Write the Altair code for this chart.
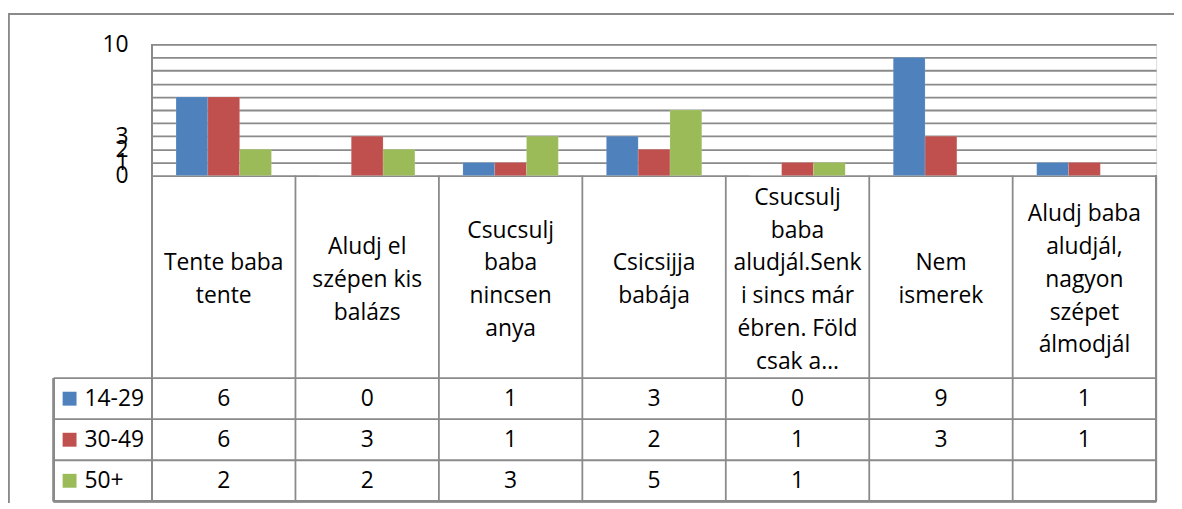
import altair as alt
import pandas as pd

CATEGORIES = [
    "Tente baba\ntente",
    "Aludj el\nszépen kis\nbalázs",
    "Csucsulj\nbaba\nnincsen\nanya",
    "Csicsijja\nbabája",
    "Csucsulj\nbaba\naludjál.Senk\ni sincs már\nébren. Föld\ncsak a…",
    "Nem\nismerek",
    "Aludj baba\naludjál,\nnagyon\nszépet\nálmodjál",
]
SERIES = ["14-29", "30-49", "50+"]
V_14_29 = [6, 0, 1, 3, 0, 9, 1]
V_30_49 = [6, 3, 1, 2, 1, 3, 1]
V_50_PLUS = [2, 2, 3, 5, 1, None, None]
COLORS = ["#4F81BD", "#C0504D", "#9BBB59"]
Y_GRID = list(range(0, 11))
Y_LABELS = [0, 1, 2, 3, 10]

FONT = "Open Sans"
FS = 23
LINE = "#8a8a8a"
LW = 1.8

W = 1011          # plot + table width
H = 460           # plot + table height
BAR_H = 132       # height of bar area
ROW_TOP = 336     # top of series rows in table
CAT_MID = 237     # vertical centre of category-label row
LH = 33           # line height of category labels

rows = []
for s, vals in zip(SERIES, [V_14_29, V_30_49, V_50_PLUS]):
    for c, v in zip(CATEGORIES, vals):
        rows.append({"cat": c, "series": s, "value": v})
df = pd.DataFrame(rows)
df_vals = df.dropna(subset=["value"]).copy()
df_vals["value"] = df_vals["value"].astype(int)
df_cat = pd.DataFrame({"cat": CATEGORIES})
df_ser = pd.DataFrame({"series": SERIES})

xs = alt.Scale(domain=CATEGORIES, paddingInner=0, paddingOuter=0)
ys_row = alt.Scale(domain=SERIES, range=[ROW_TOP, H], paddingInner=0, paddingOuter=0)
cs = alt.Scale(domain=SERIES, range=COLORS)

label_expr = "indexof(" + str(Y_LABELS) + ", datum.value) >= 0 ? datum.label : ''"

bars = alt.Chart(df_vals).mark_bar(stroke="white", strokeOpacity=0.25, strokeWidth=0.5).encode(
    x=alt.X("cat:N", sort=CATEGORIES, scale=xs, axis=None),
    xOffset=alt.XOffset("series:N", sort=SERIES,
                        scale=alt.Scale(domain=SERIES, paddingInner=0, paddingOuter=0.756)),
    y=alt.Y("value:Q",
            scale=alt.Scale(domain=[0, 10], range=[BAR_H, 0], nice=False),
            axis=alt.Axis(values=Y_GRID, labelExpr=label_expr, grid=True,
                          gridColor=LINE, gridWidth=LW, ticks=False, domain=False,
                          labelFont=FONT, labelFontSize=FS, labelColor="black",
                          labelPadding=24, labelOverlap=False, title=None)),
    color=alt.Color("series:N", scale=cs, legend=None),
)

# table: category labels (multi-line, block centred vertically)
cat_text = alt.Chart(df_cat).transform_calculate(
    nlines="length(split(datum.cat, '\\n'))"
).transform_calculate(
    ypos=f"{CAT_MID} - (datum.nlines - 1) * {LH} / 2"
).mark_text(
    font=FONT, fontSize=FS, lineBreak="\n", lineHeight=LH, baseline="middle",
    align="center", color="black"
).encode(
    x=alt.X("cat:N", sort=CATEGORIES, scale=xs, axis=None),
    y=alt.Y("ypos:Q", scale=None, axis=None),
    text="cat:N",
)

# table: values
val_text = alt.Chart(df_vals).mark_text(
    font=FONT, fontSize=FS, baseline="middle", align="center", color="black"
).encode(
    x=alt.X("cat:N", sort=CATEGORIES, scale=xs, axis=None),
    y=alt.Y("series:N", scale=ys_row, axis=None),
    text=alt.Text("value:Q", format="d"),
)

# legend column
leg_sq = alt.Chart(df_ser).mark_square(size=196, opacity=1).encode(
    x=alt.value(-83),
    y=alt.Y("series:N", scale=ys_row, axis=None),
    color=alt.Color("series:N", scale=cs, legend=None),
)
leg_txt = alt.Chart(df_ser).mark_text(
    font=FONT, fontSize=FS, baseline="middle", align="left", color="black"
).encode(
    x=alt.value(-68),
    y=alt.Y("series:N", scale=ys_row, axis=None),
    text="series:N",
)

# table lines
v_lines = alt.Chart(df_cat).mark_rule(color=LINE, strokeWidth=LW).encode(
    x=alt.X("cat:N", sort=CATEGORIES, scale=xs, axis=None, bandPosition=0),
    y=alt.value(BAR_H), y2=alt.value(H),
)
h_lines = alt.Chart(df_ser).mark_rule(color=LINE, strokeWidth=LW).encode(
    y=alt.Y("series:N", scale=ys_row, axis=None, bandPosition=0),
    x=alt.value(-99), x2=alt.value(W),
)
left_edge = alt.Chart(df_cat).mark_rule(color=LINE, strokeWidth=LW).encode(
    x=alt.value(0), y=alt.value(0), y2=alt.value(H))
right_edge = alt.Chart(df_cat).mark_rule(color=LINE, strokeWidth=LW).encode(
    x=alt.value(W), y=alt.value(BAR_H), y2=alt.value(H))
bottom_edge = alt.Chart(df_cat).mark_rule(color=LINE, strokeWidth=LW).encode(
    y=alt.value(H), x=alt.value(-99), x2=alt.value(W))
leg_left = alt.Chart(df_cat).mark_rule(color=LINE, strokeWidth=LW).encode(
    x=alt.value(-99), y=alt.value(ROW_TOP), y2=alt.value(H))

# chart frame
frame_top = alt.Chart(df_cat).mark_rule(color="#8a8a8a", strokeWidth=1.5).encode(
    y=alt.value(-31), x=alt.value(-144.5), x2=alt.value(W + 20))
frame_left = alt.Chart(df_cat).mark_rule(color="#8a8a8a", strokeWidth=1.5).encode(
    x=alt.value(-144.5), y=alt.value(-31), y2=alt.value(H + 20))

chart = alt.layer(
    bars, v_lines, h_lines, left_edge, right_edge, bottom_edge, leg_left,
    cat_text, val_text, leg_sq, leg_txt, frame_top, frame_left,
).resolve_scale(y="independent").properties(
    width=W, height=H,
    padding={"left": 145, "top": 35, "right": 18, "bottom": 0},
    autosize=alt.AutoSizeParams(type="none"),
).configure_view(stroke=None).configure(background="white")

chart.save("out.html", embed_options={"renderer": "svg", "actions": False})
